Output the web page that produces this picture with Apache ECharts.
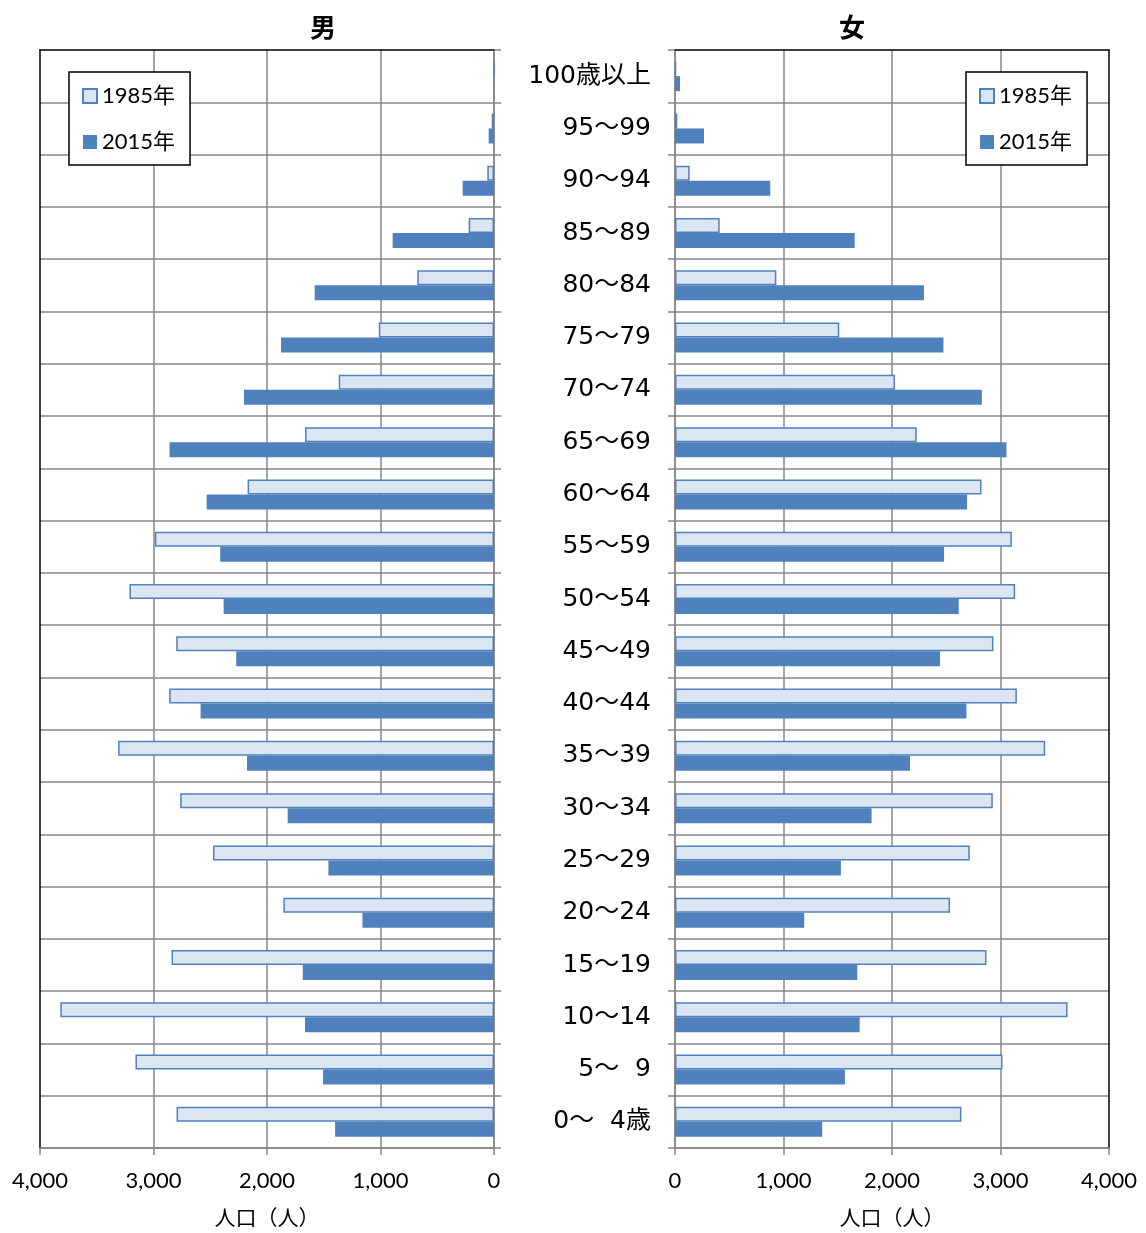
<!DOCTYPE html>
<html><head><meta charset="utf-8">
<script src="https://cdn.jsdelivr.net/npm/echarts@6/dist/echarts.min.js"></script>
<style>html,body{margin:0;padding:0;background:#fff}#c{width:1146px;height:1233px}</style>
</head><body><div id="c"></div>
<script>
const ageGroups = ['0～  4歳','5～  9','10～14','15～19','20～24','25～29','30～34','35～39','40～44','45～49','50～54','55～59','60～64','65～69','70～74','75～79','80～84','85～89','90～94','95～99','100歳以上'];
const male1985 = [2797,3159,3821,2841,1856,2476,2765,3312,2862,2800,3212,2988,2171,1665,1368,1015,676,223,59,20,0];
const male2015 = [1400,1506,1665,1685,1159,1459,1818,2176,2585,2271,2382,2412,2532,2859,2203,1876,1580,893,276,47,3];
const female1985 = [2640,3018,3618,2871,2535,2717,2929,3412,3151,2935,3135,3105,2825,2228,2028,1514,934,412,135,21,10];
const female2015 = [1357,1566,1702,1680,1191,1529,1812,2166,2686,2443,2615,2480,2692,3055,2828,2474,2295,1656,878,267,46];
const xTicks = [0,1000,2000,3000,4000];
const seriesNames = ['1985年','2015年'];
const panelTitles = ['男','女'];
const axisTitle = '人口（人）';

const GRAY = '#878787';
const gridLine = {color: GRAY, width: 1.5};
const blackLine = {color: '#000', width: 1.5};
const tickFont = {fontSize: 22, fontFamily: 'Lato, "Noto Sans CJK JP", sans-serif', color: '#000'};
const fmt = v => v.toLocaleString('en-US');

function valueAxis(gi, inverse) {
  return {
    gridIndex: gi, type: 'value', min: xTicks[0], max: xTicks[xTicks.length-1], interval: 1000,
    inverse: inverse, position: 'bottom',
    axisLine: {show: true, onZero: false, lineStyle: gridLine},
    axisTick: {show: true, length: 7, lineStyle: gridLine},
    axisLabel: Object.assign({margin: 22, formatter: fmt}, tickFont),
    splitLine: {show: true, lineStyle: gridLine, showMaxLine: false},
    name: axisTitle, nameLocation: 'middle', nameGap: 59,
    nameTextStyle: {fontSize: 21, fontFamily: '"Noto Sans CJK JP", sans-serif', color: '#000'}
  };
}
function borderX(gi, inverse) {
  return {gridIndex: gi, type: 'value', min: xTicks[0], max: xTicks[xTicks.length-1], inverse: inverse, position: 'top',
    axisLine: {show: true, onZero: false, lineStyle: blackLine}, axisTick: {show: false}, axisLabel: {show: false}, splitLine: {show: false}};
}
function catAxis(gi, pos, showLabel) {
  return {
    gridIndex: gi, type: 'category', data: ageGroups, position: pos,
    axisLine: {show: true, onZero: false, lineStyle: gridLine},
    axisTick: {show: true, length: 7, lineStyle: gridLine},
    axisLabel: {show: showLabel, margin: 24, fontSize: 25, padding: [5, 0, 0, 0], color: '#000', fontFamily: '"DejaVu Sans", "Noto Sans CJK JP", sans-serif'},
    splitLine: {show: true, lineStyle: gridLine, showMaxLine: false}
  };
}
function borderY(gi, pos) {
  return {gridIndex: gi, type: 'category', data: ageGroups, position: pos,
    axisLine: {show: true, onZero: false, lineStyle: blackLine}, axisTick: {show: false}, axisLabel: {show: false}, splitLine: {show: false}};
}
function bars(name, data, xi, yi, light) {
  return {
    name: name, type: 'bar', xAxisIndex: xi, yAxisIndex: yi, data: data,
    barWidth: 15, barGap: '0%',
    itemStyle: light ? {color: '#dce6f2', borderColor: '#4f81bd', borderWidth: 1.5} : {color: '#4f81bd'}
  };
}
function legend(left) {
  return {
    data: seriesNames, left: left, top: 72, orient: 'vertical', icon: 'rect',
    itemWidth: 14, itemHeight: 14, itemGap: 24, padding: [13, 15, 12, 13],
    borderColor: '#000', borderWidth: 1.5, backgroundColor: '#fff', selectedMode: false,
    textStyle: {fontSize: 22, fontFamily: 'Lato, "Noto Sans CJK JP", sans-serif', color: '#000'}
  };
}

const chart = echarts.init(document.getElementById('c'));
chart.setOption({
  animation: false,
  backgroundColor: '#fff',
  title: [
    {text: panelTitles[0], left: 310, top: 14, padding: 0, textStyle: {fontSize: 26, fontWeight: 'bold', fontFamily: '"Noto Sans CJK JP", sans-serif', color: '#000'}},
    {text: panelTitles[1], left: 839, top: 14, padding: 0, textStyle: {fontSize: 26, fontWeight: 'bold', fontFamily: '"Noto Sans CJK JP", sans-serif', color: '#000'}}
  ],
  legend: [legend(69), legend(966)],
  grid: [
    {left: 40, width: 454, top: 50, height: 1100, containLabel: false},
    {left: 675, width: 434, top: 50, height: 1100, containLabel: false}
  ],
  xAxis: [valueAxis(0, true), borderX(0, true), valueAxis(1, false), borderX(1, false)],
  yAxis: [catAxis(0, 'right', false), borderY(0, 'left'), catAxis(1, 'left', true), borderY(1, 'right')],
  series: [
    bars(seriesNames[0], male1985, 0, 0, true),
    bars(seriesNames[1], male2015, 0, 0, false),
    bars(seriesNames[0], female1985, 2, 2, true),
    bars(seriesNames[1], female2015, 2, 2, false)
  ]
});
</script></body></html>
